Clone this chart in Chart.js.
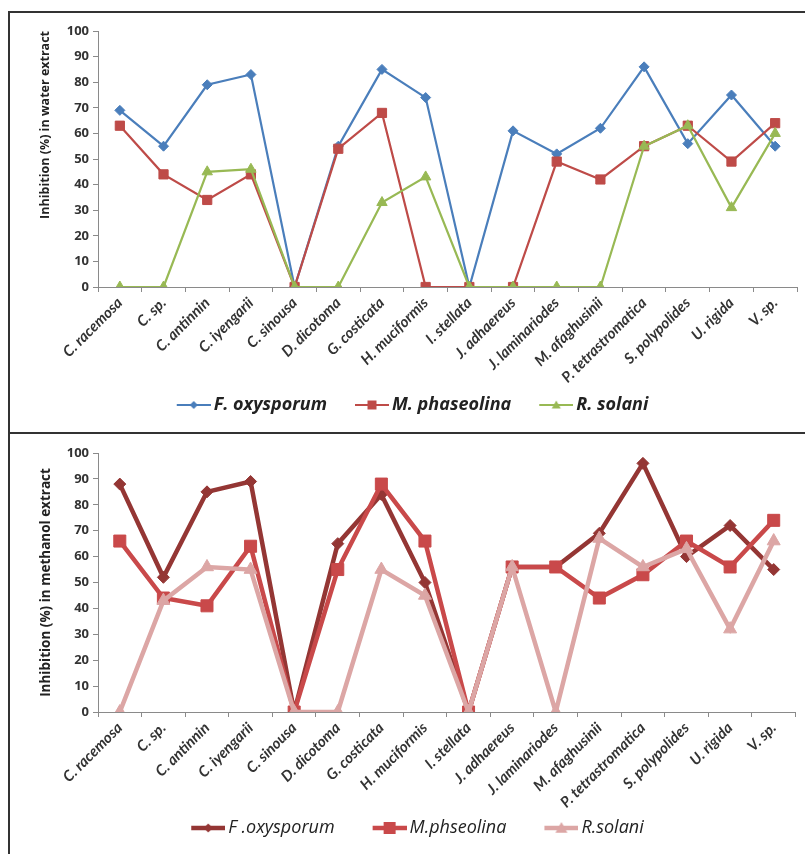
<!DOCTYPE html>
<html>
<head>
<meta charset="utf-8">
<title>Inhibition of fungal growth by seaweed extracts</title>
<script src="https://cdn.jsdelivr.net/npm/chart.js@4.4.1/dist/chart.umd.min.js"></script>
<style>
  html, body { margin: 0; padding: 0; background: #fff; }
  body { width: 805px; height: 854px; position: relative; overflow: hidden; }
  .panel { position: absolute; left: 8px; right: -4px; border: 2px solid #333; background: #fff; }
  #topPanel { top: 11px; height: 420px; }
  #bottomPanel { top: 432px; height: 430px; }
  .panel canvas { position: absolute; left: 0; top: 0; }
</style>
</head>
<body>
<div class="panel" id="topPanel"><canvas id="waterChart" width="795" height="419"></canvas></div>
<div class="panel" id="bottomPanel"><canvas id="methanolChart" width="795" height="418"></canvas></div>

<script>
// Seaweed species tested
const species = [
  "C. racemosa", "C. sp.", "C. antinnin", "C. iyengarii", "C. sinousa",
  "D. dicotoma", "G. costicata", "H. muciformis", "I. stellata", "J. adhaereus",
  "J. laminariodes", "M. afaghusinii", "P. tetrastromatica", "S. polypolides",
  "U. rigida", "V. sp."
];
const yTicks = [0, 10, 20, 30, 40, 50, 60, 70, 80, 90, 100];

// % inhibition, water extract
const waterFoxy  = [69, 55, 79, 83, 0, 55, 85, 74, 0, 61, 52, 62, 86, 56, 75, 55];
const waterMpha  = [63, 44, 34, 44, 0, 54, 68, 0, 0, 0, 49, 42, 55, 63, 49, 64];
const waterRsol  = [0, 0, 45, 46, 0, 0, 33, 43, 0, 0, 0, 0, 55, 63, 31, 60];

// % inhibition, methanol extract
const methFoxy = [88, 52, 85, 89, 0, 65, 84, 50, 0, 56, 56, 69, 96, 60, 72, 55];
const methMpha = [66, 44, 41, 64, 0, 55, 88, 66, 0, 56, 56, 44, 53, 66, 56, 74];
const methRsol = [0, 43, 56, 55, 0, 0, 55, 45, 0, 56, 0, 67, 56, 63, 32, 66];

const FONT = "'Open Sans', Lato, sans-serif";
const ICON_W = 34;

// legend icon (line + marker). The legend reserves `box` px for it; the image
// is box+12 wide and centred on that box, so the icon ends just before the text
// and the blank left part works as spacing between items.
function legendIcon(color, shape, lineWidth, size, box){
  const w = box + 12;
  const c = document.createElement("canvas");
  c.width = w; c.height = 18;
  const g = c.getContext("2d");
  const x0 = w - ICON_W, cx = x0 + ICON_W / 2, cy = 9;
  g.strokeStyle = color;
  g.fillStyle = color;
  g.lineWidth = lineWidth;
  g.beginPath(); g.moveTo(x0, cy); g.lineTo(w, cy); g.stroke();
  g.beginPath();
  if(shape === "rect"){
    g.rect(cx - size, cy - size, size * 2, size * 2);
  } else if(shape === "rectRot"){
    g.moveTo(cx, cy - size); g.lineTo(cx + size, cy); g.lineTo(cx, cy + size); g.lineTo(cx - size, cy);
  } else {
    g.moveTo(cx, cy - size); g.lineTo(cx + size, cy + size * 0.8); g.lineTo(cx - size, cy + size * 0.8);
  }
  g.closePath(); g.fill();
  return c;
}

function series(label, data, color, shape, lw, radius, iconSize, order){
  return {
    label, data,
    borderColor: color, backgroundColor: color,
    pointBackgroundColor: color, pointBorderColor: color,
    pointStyle: shape, pointRadius: radius, pointBorderWidth: 1,
    borderWidth: lw, tension: 0, order,
    iconSize
  };
}

function buildChart(canvasId, cfg, datasets){
  datasets.forEach(d => {
    d.legendImg = legendIcon(d.borderColor, d.pointStyle, d.borderWidth, d.iconSize, cfg.iconBox);
  });

  new Chart(document.getElementById(canvasId), {
    type: "line",
    data: { labels: species, datasets },
    options: {
      responsive: false,
      animation: false,
      events: [],
      layout: { padding: { top: cfg.padTop, right: 8, left: 0, bottom: cfg.padBottom } },
      plugins: {
        tooltip: { enabled: false },
        legend: {
          position: "bottom",
          labels: {
            usePointStyle: true,
            pointStyleWidth: cfg.iconBox,
            padding: 10,
            color: "#222",
            font: cfg.legendFont,
            generateLabels: chart => chart.data.datasets.map((d, i) => ({
              text: d.label,
              datasetIndex: i,
              pointStyle: d.legendImg,
              fillStyle: d.borderColor,
              strokeStyle: d.borderColor,
              lineWidth: 0,
              fontColor: "#222"
            }))
          }
        }
      },
      scales: {
        x: {
          offset: true,
          grid: { offset: true, drawOnChartArea: false, tickLength: 5, color: "#8a8a8a" },
          border: { color: "#8a8a8a", width: 1 },
          ticks: {
            minRotation: 45, maxRotation: 45, autoSkip: false, padding: 2,
            color: "#333",
            font: { family: "Lato, 'Open Sans', sans-serif", size: 15, weight: "bold", style: "italic" }
          },
          afterFit: s => { s.height = cfg.xHeight; }
        },
        y: {
          min: 0, max: 100,
          afterBuildTicks: s => { s.ticks = yTicks.map(v => ({ value: v })); },
          grid: { drawOnChartArea: false, tickLength: 5, color: "#8a8a8a" },
          border: { color: "#8a8a8a", width: 1 },
          ticks: { padding: 4, color: "#333", font: { family: FONT, size: 13, weight: "bold" } },
          title: {
            display: true, text: cfg.yTitle, color: "#222", align: cfg.titleAlign,
            padding: { top: 28, bottom: 0 },
            font: { family: FONT, size: cfg.titleSize, weight: "bold" }
          },
          afterFit: s => { s.width = 88; }
        }
      }
    }
  });
}

document.addEventListener("DOMContentLoaded", () => {
  // === Water extract ===
  buildChart("waterChart", {
    yTitle: "Inhibition (%) in water extract", titleAlign: "end", titleSize: 12.5,
    padTop: 18, padBottom: 8, xHeight: 99, iconBox: 46,
    legendFont: { family: FONT, size: 18, weight: "bold", style: "italic" }
  }, [
    series("F. oxysporum", waterFoxy, "#4a7ebb", "rectRot", 2.2, 5, 4, 3),
    series("M. phaseolina", waterMpha, "#be4b48", "rect", 2.2, 6.5, 4.5, 2),
    series("R. solani", waterRsol, "#98b954", "triangle", 2.2, 6, 4.5, 1)
  ]);

  // === Methanol extract ===
  buildChart("methanolChart", {
    yTitle: "Inhibition (%) in methanol extract", titleAlign: "center", titleSize: 13.5,
    padTop: 19, padBottom: 5, xHeight: 97, iconBox: 56,
    legendFont: { family: FONT, size: 18, style: "italic" }
  }, [
    series("F .oxysporum", methFoxy, "#943634", "rectRot", 4.5, 6, 4.5, 3),
    series("M.phseolina", methMpha, "#c9494a", "rect", 4.5, 8.5, 6, 2),
    series("R.solani", methRsol, "#dca6a5", "triangle", 4.5, 7.5, 6, 1)
  ]);
});
</script>
</body>
</html>
